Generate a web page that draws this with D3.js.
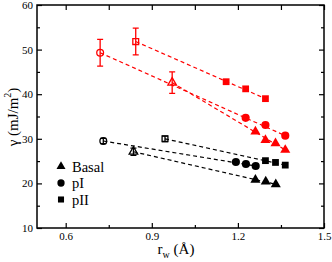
<!DOCTYPE html>
<html>
<head>
<meta charset="utf-8">
<script src="https://cdn.jsdelivr.net/npm/d3@7"></script>
<style>
  body { margin: 0; background: #fff; }
  text { font-family: "Liberation Serif", "DejaVu Serif", serif; }
</style>
</head>
<body>
<svg id="chart" width="332" height="262"></svg>
<script>
// data: [r_w, gamma]; first point of each series is the open one with an error bar
var basalBlack = [[0.836, 27.1], [1.261, 20.8], [1.297, 20.4], [1.332, 19.8]];
var pIBlack    = [[0.731, 29.5], [1.193, 24.8], [1.228, 24.35], [1.262, 23.9]];
var pIIBlack   = [[0.946, 30.0], [1.296, 25.1], [1.331, 24.7], [1.365, 24.1]];
var basalRed   = [[0.971, 42.6], [1.261, 31.6], [1.296, 29.7], [1.331, 29.0], [1.365, 27.5]];
var pIRed      = [[0.720, 49.3], [1.227, 34.7], [1.296, 33.1], [1.365, 30.7]];
var pIIRed     = [[0.844, 51.8], [1.159, 42.8], [1.227, 41.2], [1.296, 39.0]];
var errBlack   = [0.8, 0.6, 0.6];   // basal, pI, pII
var errRed     = [2.4, 3.0, 3.0];

var legendNames = ["Basal", "pI", "pII"];
var xTicks = [0.6, 0.9, 1.2, 1.5];
var xMinor = [0.75, 1.05, 1.35];
var yTicks = [10, 20, 30, 40, 50, 60];
var yMinor = [15, 25, 35, 45, 55];

var svg = d3.select("#chart");
var plotL = 37, plotR = 324, plotT = 5, plotB = 228;

var x = d3.scaleLinear().domain([0.5, 1.5]).range([plotL, plotR]);
var y = d3.scaleLinear().domain([10, 60]).range([plotB, plotT]);

function drawAxis(axis, tx, ty) {
  var g = svg.append("g").attr("transform", "translate(" + tx + "," + ty + ")").call(axis);
  g.select(".domain").remove();
  g.attr("font-family", "Liberation Serif");
  g.selectAll("line").attr("stroke", "#000").attr("stroke-width", 1.2);
  g.selectAll("text").attr("font-size", 11).attr("fill", "#000");
  return g;
}

// ticks point inward on all four sides
drawAxis(d3.axisBottom(x).tickValues(xTicks).tickSize(-5).tickPadding(4).tickFormat(d3.format(".1f")), 0, plotB);
drawAxis(d3.axisBottom(x).tickValues(xMinor).tickSize(-3).tickFormat(""), 0, plotB);
drawAxis(d3.axisTop(x).tickValues(xTicks.concat(xMinor)).tickSize(-5).tickFormat(""), 0, plotT);
drawAxis(d3.axisLeft(y).tickValues(yTicks).tickSize(-5).tickPadding(4), plotL, 0);
drawAxis(d3.axisLeft(y).tickValues(yMinor).tickSize(-3).tickFormat(""), plotL, 0);
drawAxis(d3.axisRight(y).tickValues(yTicks).tickSize(-5).tickFormat(""), plotR, 0);
drawAxis(d3.axisRight(y).tickValues(yMinor).tickSize(-3).tickFormat(""), plotR, 0);

svg.append("rect")
    .attr("x", plotL).attr("y", plotT)
    .attr("width", plotR - plotL).attr("height", plotB - plotT)
    .attr("fill", "none").attr("stroke", "#000").attr("stroke-width", 1.5);

var shapes = [d3.symbolTriangle, d3.symbolCircle, d3.symbolSquare];
var sizes = [44, 52, 46];
var openSizes = [32, 36, 34];

function drawSeries(pts, k, color, err) {
  var g = svg.append("g");
  var first = pts[0], last = pts[pts.length - 1];

  // dashed trend line from the open point to the last filled one
  g.append("line")
      .attr("x1", x(first[0])).attr("y1", y(first[1]))
      .attr("x2", x(last[0])).attr("y2", y(last[1]))
      .attr("stroke", color).attr("stroke-width", 1.2)
      .attr("stroke-dasharray", "4,3");

  // error bar on the open point
  var ex = x(first[0]);
  g.append("path")
      .attr("d", "M" + ex + "," + y(first[1] - err) + "V" + y(first[1] + err) +
                 "M" + (ex - 3) + "," + y(first[1] - err) + "H" + (ex + 3) +
                 "M" + (ex - 3) + "," + y(first[1] + err) + "H" + (ex + 3))
      .attr("stroke", color).attr("stroke-width", 1.3).attr("fill", "none");

  g.append("path")
      .attr("transform", "translate(" + ex + "," + y(first[1]) + ")")
      .attr("d", d3.symbol().type(shapes[k]).size(openSizes[k]))
      .attr("fill", "none").attr("stroke", color).attr("stroke-width", 1.3);

  g.selectAll("path.pt")
      .data(pts.slice(1))
    .enter().append("path")
      .attr("class", "pt")
      .attr("transform", function (d) { return "translate(" + x(d[0]) + "," + y(d[1]) + ")"; })
      .attr("d", d3.symbol().type(shapes[k]).size(sizes[k]))
      .attr("fill", color);
}

[basalBlack, pIBlack, pIIBlack].forEach(function (s, k) { drawSeries(s, k, "#000", errBlack[k]); });
[basalRed, pIRed, pIIRed].forEach(function (s, k) { drawSeries(s, k, "#ff0000", errRed[k]); });

// legend
var legend = svg.append("g").selectAll("g")
    .data(legendNames)
  .enter().append("g")
    .attr("transform", function (d, i) { return "translate(61," + (166.5 + i * 16.5) + ")"; });
legend.append("path")
    .attr("d", function (d, i) { return d3.symbol().type(shapes[i]).size(sizes[i] * 0.8)(); })
    .attr("fill", "#000");
legend.append("text")
    .attr("x", 11).attr("y", 5)
    .attr("font-size", 14.5)
    .text(function (d) { return d; });

// axis titles
var yl = svg.append("text")
    .attr("transform", "translate(18,117) rotate(-90)")
    .attr("text-anchor", "middle")
    .attr("font-size", 15);
yl.append("tspan").text("\u03b3 (mJ/m");
yl.append("tspan").attr("font-size", 10).attr("dy", -7).text("2");
yl.append("tspan").attr("dy", 7).text(")");

var xl = svg.append("text")
    .attr("x", 176).attr("y", 254)
    .attr("text-anchor", "middle")
    .attr("font-size", 15);
xl.append("tspan").text("r");
xl.append("tspan").attr("font-size", 10).attr("dy", 4).text("w");
xl.append("tspan").attr("dy", -4).text(" (\u00c5)");
</script>
</body>
</html>
